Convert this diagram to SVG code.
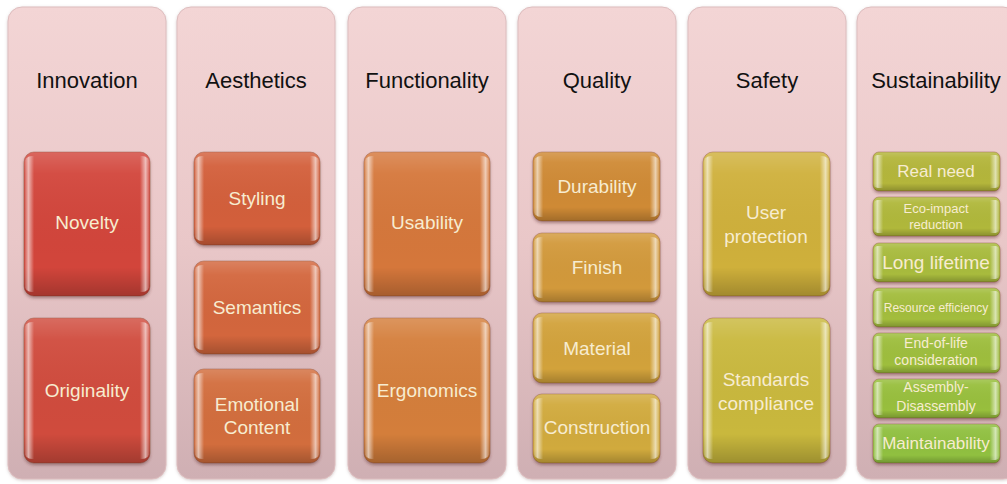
<svg xmlns="http://www.w3.org/2000/svg" width="1007" height="484" viewBox="0 0 1007 484">
<defs>
<linearGradient id="panelG" x1="0" y1="0" x2="0" y2="1">
<stop offset="0" stop-color="#f3d5d5"/><stop offset="0.5" stop-color="#e9c7c8"/><stop offset="1" stop-color="#cfafb3"/>
</linearGradient>
<linearGradient id="shade" x1="0" y1="0" x2="0" y2="1">
<stop offset="0" stop-color="#fff" stop-opacity="0.18"/><stop offset="0.15" stop-color="#fff" stop-opacity="0.05"/><stop offset="0.8" stop-color="#000" stop-opacity="0"/><stop offset="1" stop-color="#000" stop-opacity="0.22"/>
</linearGradient>
<linearGradient id="sides" x1="0" y1="0" x2="1" y2="0">
<stop offset="0" stop-color="#fff" stop-opacity="0"/><stop offset="0.035" stop-color="#fff" stop-opacity="0.6"/><stop offset="0.08" stop-color="#fff" stop-opacity="0"/><stop offset="0.92" stop-color="#fff" stop-opacity="0"/><stop offset="0.965" stop-color="#fff" stop-opacity="0.6"/><stop offset="1" stop-color="#fff" stop-opacity="0"/>
</linearGradient>
<filter id="sh" x="-10%" y="-10%" width="120%" height="130%">
<feDropShadow dx="0" dy="2" stdDeviation="1.5" flood-color="#5a2a2a" flood-opacity="0.45"/>
</filter>
<filter id="psh" x="-10%" y="-5%" width="120%" height="110%">
<feDropShadow dx="0" dy="1" stdDeviation="1.5" flood-color="#8a6a6a" flood-opacity="0.35"/>
</filter>
</defs>
<style>
.panel{fill:url(#panelG);stroke:#ddbdbe;stroke-width:1;filter:url(#psh)}
.head{font-family:"Liberation Sans",Arial,sans-serif;font-size:22px;fill:#111;text-anchor:middle}
.box{stroke:#7a3a20;stroke-opacity:0.35;stroke-width:1;filter:url(#sh)}
.shade{fill:url(#shade)}
.sides{fill:url(#sides)}
.lbl{font-family:"Liberation Sans",Arial,sans-serif;font-size:19px;fill:#f7ecd0;text-anchor:middle}
.s14{font-size:14px}
.s13{font-size:13px}
.s12{font-size:12px}
.s17{font-size:17px}
</style>
<rect width="1007" height="484" fill="#ffffff"/>
<g id="col-innovation">
<rect class="panel" x="8" y="7" width="158" height="472" rx="14"/>
<text class="head" x="87" y="88">Innovation</text>
</g>
<g id="col-aesthetics">
<rect class="panel" x="177" y="7" width="158" height="472" rx="14"/>
<text class="head" x="256" y="88">Aesthetics</text>
</g>
<g id="col-functionality">
<rect class="panel" x="348" y="7" width="158" height="472" rx="14"/>
<text class="head" x="427" y="88">Functionality</text>
</g>
<g id="col-quality">
<rect class="panel" x="518" y="7" width="158" height="472" rx="14"/>
<text class="head" x="597" y="88">Quality</text>
</g>
<g id="col-safety">
<rect class="panel" x="688" y="7" width="158" height="472" rx="14"/>
<text class="head" x="767" y="88">Safety</text>
</g>
<g id="col-sustainability">
<rect class="panel" x="857" y="7" width="160" height="472" rx="14"/>
<text class="head" x="936" y="88">Sustainability</text>
</g>

<g id="novelty"><rect class="box" x="24" y="152" width="126" height="144" rx="10" fill="#d2443b"/><rect class="shade" x="24" y="152" width="126" height="144" rx="10"/><rect class="sides" x="24" y="156" width="126" height="136" rx="8"/><text class="lbl" x="87" y="229">Novelty</text></g>
<g id="originality"><rect class="box" x="24" y="318" width="126" height="145" rx="10" fill="#d04c3e"/><rect class="shade" x="24" y="318" width="126" height="145" rx="10"/><rect class="sides" x="24" y="322" width="126" height="137" rx="8"/><text class="lbl" x="87" y="397">Originality</text></g>

<g id="styling"><rect class="box" x="194" y="152" width="126" height="93" rx="10" fill="#d35e3a"/><rect class="shade" x="194" y="152" width="126" height="93" rx="10"/><rect class="sides" x="194" y="156" width="126" height="85" rx="8"/><text class="lbl" x="257" y="205">Styling</text></g>
<g id="semantics"><rect class="box" x="194" y="261" width="126" height="93" rx="10" fill="#d3663c"/><rect class="shade" x="194" y="261" width="126" height="93" rx="10"/><rect class="sides" x="194" y="265" width="126" height="85" rx="8"/><text class="lbl" x="257" y="314">Semantics</text></g>
<g id="emotional-content"><rect class="box" x="194" y="369" width="126" height="94" rx="10" fill="#d26d3d"/><rect class="shade" x="194" y="369" width="126" height="94" rx="10"/><rect class="sides" x="194" y="373" width="126" height="86" rx="8"/><text class="lbl" x="257" y="411">Emotional</text><text class="lbl" x="257" y="434">Content</text></g>

<g id="usability"><rect class="box" x="364" y="152" width="126" height="144" rx="10" fill="#d5773a"/><rect class="shade" x="364" y="152" width="126" height="144" rx="10"/><rect class="sides" x="364" y="156" width="126" height="136" rx="8"/><text class="lbl" x="427" y="229">Usability</text></g>
<g id="ergonomics"><rect class="box" x="364" y="318" width="126" height="145" rx="10" fill="#d47e3b"/><rect class="shade" x="364" y="318" width="126" height="145" rx="10"/><rect class="sides" x="364" y="322" width="126" height="137" rx="8"/><text class="lbl" x="427" y="397">Ergonomics</text></g>

<g id="durability"><rect class="box" x="533" y="152" width="127" height="69" rx="9" fill="#cf8a35"/><rect class="shade" x="533" y="152" width="127" height="69" rx="9"/><rect class="sides" x="533" y="156" width="127" height="61" rx="8"/><text class="lbl" x="597" y="193">Durability</text></g>
<g id="finish"><rect class="box" x="533" y="233" width="127" height="69" rx="9" fill="#d2993a"/><rect class="shade" x="533" y="233" width="127" height="69" rx="9"/><rect class="sides" x="533" y="237" width="127" height="61" rx="8"/><text class="lbl" x="597" y="274">Finish</text></g>
<g id="material"><rect class="box" x="533" y="313" width="127" height="70" rx="9" fill="#d2a23a"/><rect class="shade" x="533" y="313" width="127" height="70" rx="9"/><rect class="sides" x="533" y="317" width="127" height="62" rx="8"/><text class="lbl" x="597" y="355">Material</text></g>
<g id="construction"><rect class="box" x="533" y="394" width="127" height="69" rx="9" fill="#d1aa3c"/><rect class="shade" x="533" y="394" width="127" height="69" rx="9"/><rect class="sides" x="533" y="398" width="127" height="61" rx="8"/><text class="lbl" x="597" y="434">Construction</text></g>

<g id="user-protection"><rect class="box" x="703" y="152" width="127" height="144" rx="10" fill="#cfb03b"/><rect class="shade" x="703" y="152" width="127" height="144" rx="10"/><rect class="sides" x="703" y="156" width="127" height="136" rx="8"/><text class="lbl" x="766" y="219">User</text><text class="lbl" x="766" y="243">protection</text></g>
<g id="standards-compliance"><rect class="box" x="703" y="318" width="127" height="145" rx="10" fill="#c9b83c"/><rect class="shade" x="703" y="318" width="127" height="145" rx="10"/><rect class="sides" x="703" y="322" width="127" height="137" rx="8"/><text class="lbl" x="766" y="386">Standards</text><text class="lbl" x="766" y="410">compliance</text></g>

<g id="real-need"><rect class="box" x="873" y="152" width="127" height="39" rx="6" fill="#b4b63a"/><rect class="shade" x="873" y="152" width="127" height="39" rx="6"/><rect class="sides" x="873" y="155" width="127" height="33" rx="5"/><text class="lbl s17" x="936" y="177">Real need</text></g>
<g id="eco-impact"><rect class="box" x="873" y="197" width="127" height="39" rx="6" fill="#b0b83b"/><rect class="shade" x="873" y="197" width="127" height="39" rx="6"/><rect class="sides" x="873" y="200" width="127" height="33" rx="5"/><text class="lbl s13" x="936" y="213">Eco-impact</text><text class="lbl s13" x="936" y="229">reduction</text></g>
<g id="long-lifetime"><rect class="box" x="873" y="243" width="127" height="39" rx="6" fill="#a8bb3c"/><rect class="shade" x="873" y="243" width="127" height="39" rx="6"/><rect class="sides" x="873" y="246" width="127" height="33" rx="5"/><text class="lbl" x="936" y="269">Long lifetime</text></g>
<g id="resource-efficiency"><rect class="box" x="873" y="288" width="127" height="39" rx="6" fill="#a3bd3d"/><rect class="shade" x="873" y="288" width="127" height="39" rx="6"/><rect class="sides" x="873" y="291" width="127" height="33" rx="5"/><text class="lbl s12" x="936" y="312">Resource efficiency</text></g>
<g id="end-of-life"><rect class="box" x="873" y="333" width="127" height="40" rx="6" fill="#9ebe3e"/><rect class="shade" x="873" y="333" width="127" height="40" rx="6"/><rect class="sides" x="873" y="336" width="127" height="34" rx="5"/><text class="lbl s14" x="936" y="348">End-of-life</text><text class="lbl s14" x="936" y="365">consideration</text></g>
<g id="assembly-disassembly"><rect class="box" x="873" y="379" width="127" height="39" rx="6" fill="#98bf3e"/><rect class="shade" x="873" y="379" width="127" height="39" rx="6"/><rect class="sides" x="873" y="382" width="127" height="33" rx="5"/><text class="lbl s14" x="936" y="392">Assembly-</text><text class="lbl s14" x="936" y="411">Disassembly</text></g>
<g id="maintainability"><rect class="box" x="873" y="424" width="127" height="39" rx="6" fill="#90c03f"/><rect class="shade" x="873" y="424" width="127" height="39" rx="6"/><rect class="sides" x="873" y="427" width="127" height="33" rx="5"/><text class="lbl s17" x="936" y="449">Maintainability</text></g>
<g id="connectors"/>
</svg>
